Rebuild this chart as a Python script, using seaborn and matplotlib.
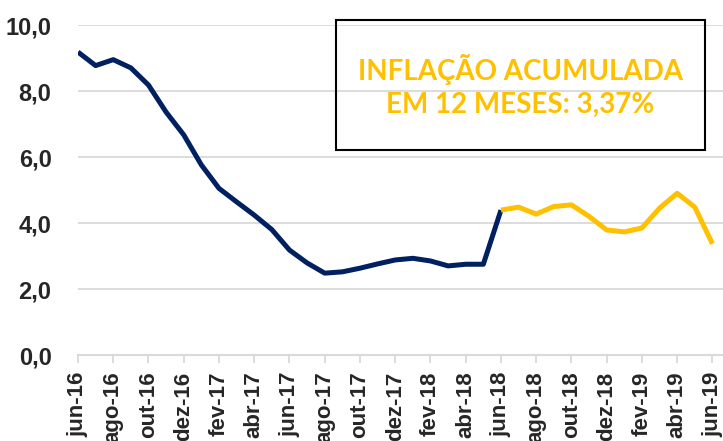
import matplotlib.pyplot as plt
import numpy as np
import pandas as pd
import seaborn as sns
from matplotlib.patches import Rectangle

# Monthly 12-month inflation, jun-16 .. jun-19
months = ['jun-16', 'jul-16', 'ago-16', 'set-16', 'out-16', 'nov-16', 'dez-16',
          'jan-17', 'fev-17', 'mar-17', 'abr-17', 'mai-17', 'jun-17', 'jul-17',
          'ago-17', 'set-17', 'out-17', 'nov-17', 'dez-17', 'jan-18', 'fev-18',
          'mar-18', 'abr-18', 'mai-18', 'jun-18', 'jul-18', 'ago-18', 'set-18',
          'out-18', 'nov-18', 'dez-18', 'jan-19', 'fev-19', 'mar-19', 'abr-19',
          'mai-19', 'jun-19']

# history up to jun-18 (navy) and the last 12 months (yellow)
past_values = [9.18, 8.77, 8.95, 8.70, 8.18, 7.36, 6.67, 5.76, 5.05, 4.64,
               4.24, 3.80, 3.18, 2.79, 2.48, 2.52, 2.63, 2.76, 2.88, 2.93,
               2.85, 2.70, 2.75, 2.75, 4.39]
recent_values = [4.39, 4.48, 4.27, 4.50, 4.55, 4.20, 3.79, 3.73, 3.85, 4.45,
                 4.90, 4.48, 3.37]

yticks = [0, 2, 4, 6, 8, 10]
ytick_labels = ['0,0', '2,0', '4,0', '6,0', '8,0', '10,0']

navy = '#002060'
gold = '#FFC000'

past = pd.DataFrame({'x': np.arange(len(past_values)), 'y': past_values})
start = len(past_values) - 1
recent = pd.DataFrame({'x': np.arange(start, start + len(recent_values)),
                       'y': recent_values})

sns.set_style('white')
plt.rcParams['font.family'] = ['Liberation Sans', 'DejaVu Sans']

fig = plt.figure(figsize=(7.23, 4.41), dpi=100)
ax = fig.add_axes([78 / 723, 1 - 355 / 441, 1 - 78 / 723, 330 / 441])

sns.lineplot(data=past, x='x', y='y', ax=ax, color=navy, linewidth=3.6,
             solid_capstyle='butt', solid_joinstyle='round')
sns.lineplot(data=recent, x='x', y='y', ax=ax, color=gold, linewidth=3.6,
             solid_capstyle='butt', solid_joinstyle='round')

ax.set_xlim(0, 36.6)
ax.set_ylim(0, 10)
ax.set_xlabel('')
ax.set_ylabel('')

ax.set_yticks(yticks)
ax.set_yticklabels(ytick_labels, fontsize=17, fontweight='bold')
ax.yaxis.grid(True, color='#d9d9d9', linewidth=1.3)
ax.tick_params(axis='y', length=0, pad=19)

tick_pos = np.arange(0, len(months), 2)
ax.set_xticks(tick_pos)
ax.set_xticklabels([months[i] for i in tick_pos], rotation=90, fontsize=16,
                   fontweight='bold', va='top', ha='center')
ax.tick_params(axis='x', direction='out', length=6, width=1.3,
               color='#d9d9d9', pad=6, bottom=True)

for side in ['top', 'right', 'left']:
    ax.spines[side].set_visible(False)
ax.spines['bottom'].set_color('#d9d9d9')
ax.spines['bottom'].set_linewidth(1.5)

# annotation box
fig.patches.append(Rectangle((336 / 723, 1 - 150 / 441), 369 / 723, 130 / 441,
                             transform=fig.transFigure, fill=False,
                             edgecolor='black', linewidth=1.5))
fig.text(520 / 723, 1 - 86 / 441, 'INFLAÇÃO ACUMULADA\nEM 12 MESES: 3,37%',
         ha='center', va='center', color=gold, fontsize=20,
         fontweight='bold', family=['Lato', 'DejaVu Sans'], linespacing=1.3)

fig.savefig('out.png', dpi=100)
